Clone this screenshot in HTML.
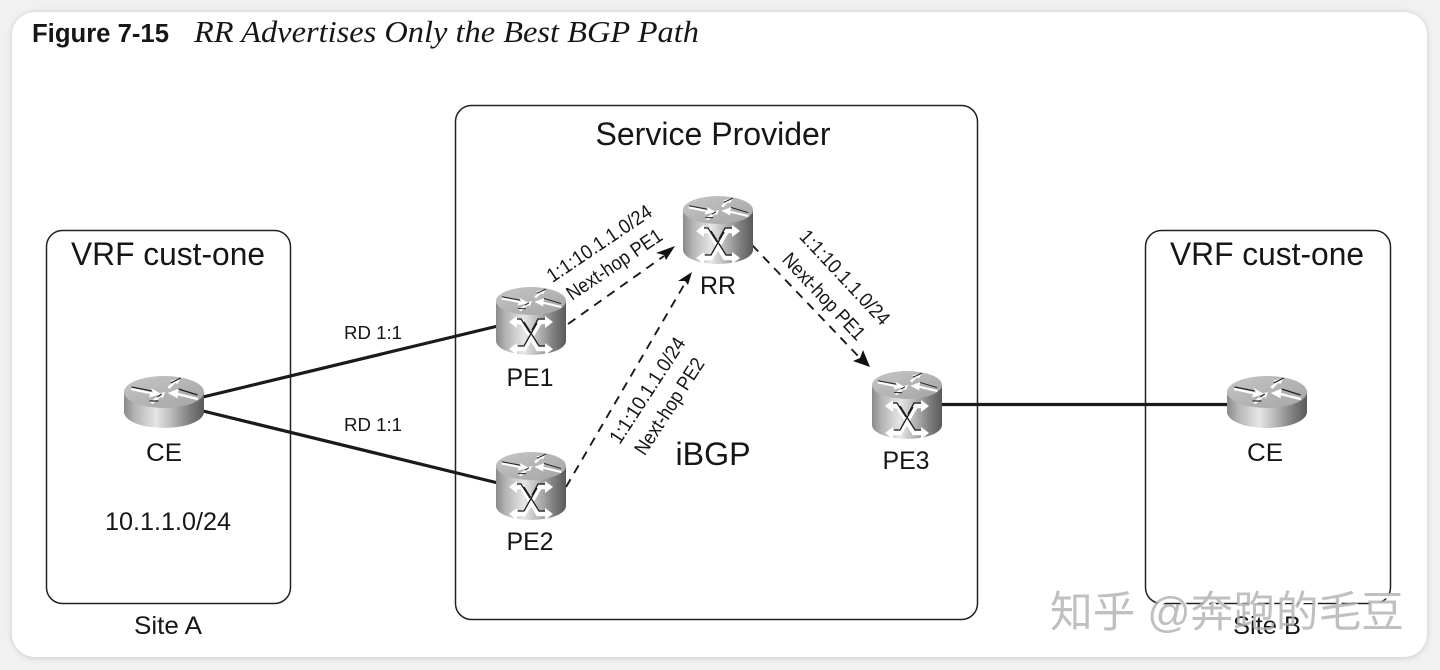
<!DOCTYPE html>
<html><head><meta charset="utf-8"><style>
html,body{margin:0;padding:0;background:#f1f1f1;width:1440px;height:670px;overflow:hidden}
svg{display:block}
text{font-family:"Liberation Sans",sans-serif;fill:#161616}
</style></head><body>
<svg width="1440" height="670" viewBox="0 0 1440 670" xmlns="http://www.w3.org/2000/svg">
<defs>
<linearGradient id="b" x1="0" x2="1" y1="0" y2="0">
<stop offset="0" stop-color="#8a8a8a"/><stop offset=".14" stop-color="#b4b4b4"/><stop offset=".4" stop-color="#e6e6e6"/><stop offset=".55" stop-color="#c4c4c4"/><stop offset=".82" stop-color="#7f7f7f"/><stop offset="1" stop-color="#5a5a5a"/>
</linearGradient>
<linearGradient id="t" x1="0" x2="1" y1="0" y2="1">
<stop offset="0" stop-color="#c6c6c6"/><stop offset="1" stop-color="#a4a4a4"/>
</linearGradient>
<filter id="sh" x="-3%" y="-3%" width="106%" height="106%"><feGaussianBlur stdDeviation="3"/></filter>
<g id="arrows">
<path d="M-29 -4 L-9 1 L-11 -3 L-3 2 L-13 5 L-12 2 L-29 -2Z" fill="#fff" stroke="#fff" stroke-width=".6"/>
<path d="M-29 -5 L-11 -1" stroke="#222" stroke-width="1.2" fill="none"/>
<path d="M3 -5 L8 -10 L5 -11 L15 -14 L12 -8 L10 -9 L5 -3Z" fill="#fff"/>
<path d="M6 -9 L15 -14" stroke="#222" stroke-width="1.2" fill="none"/>
<path d="M30 6 L12 1 L13 -3 L4 1 L12 6 L12 3 L30 8Z" fill="#fff" stroke="#fff" stroke-width=".6"/>
<path d="M13 -3 L30 3" stroke="#222" stroke-width="1.2" fill="none"/>
<path d="M-13 10 L-5 4 L-7 2 L1 0 L-1 6 L-3 5 L-10 12Z" fill="#fff"/>
<path d="M-13 9 L-5 9 M-6 5 L-2 2" stroke="#222" stroke-width="1.2" fill="none"/>
</g>
<g id="ce">
<path d="M-40 -11 V9 A40 16 0 0 0 40 9 V-11Z" fill="url(#b)"/>
<ellipse cx="0" cy="-11" rx="40" ry="16" fill="url(#t)"/>
<use href="#arrows" transform="translate(0,-11) scale(1.12,1)"/>
</g>
<g id="pe">
<path d="M-35 -20 V20 A35 14 0 0 0 35 20 V-20Z" fill="url(#b)"/>
<ellipse cx="0" cy="-20" rx="35" ry="14" fill="url(#t)"/>
<use href="#arrows" transform="translate(0,-20) scale(1,.85)"/>
<path d="M-16 1 H-9 L7 28 H16 M16 1 H9 L-7 28 H-16" stroke="#fff" stroke-width="4.500" fill="none"/>
<path d="M-16 -2 H-10 L-1 12 M15 -2 H7 L1 9 M-7 1 L8 25 H15 M6 2 L-7 25 H-13" stroke="#1c1c1c" stroke-width="1.3" fill="none"/>
<path d="M14 -5 L22 1 L14 7Z M14 22 L22 28 L14 34Z M-14 -5 L-22 1 L-14 7Z M-14 22 L-22 28 L-14 34Z" fill="#fff"/>
</g>
</defs>

<rect x="0" y="0" width="1440" height="670" fill="#f1f1f1"/>
<rect x="12" y="12" width="1415" height="646" rx="24" fill="#c8c8c8" filter="url(#sh)"/>
<rect x="12" y="12" width="1415" height="645" rx="23" fill="#fff"/>

<text x="32" y="42" font-size="25.500" font-weight="700" textLength="137" lengthAdjust="spacingAndGlyphs">Figure 7-15</text>
<text x="194" y="42" font-size="31" font-style="italic" textLength="505" lengthAdjust="spacingAndGlyphs" style="font-family:'Liberation Serif',serif">RR Advertises Only the Best BGP Path</text>

<rect x="46.5" y="230.5" width="244" height="373" rx="16" fill="none" stroke="#222" stroke-width="1.5"/>
<rect x="455.5" y="105.5" width="522" height="514" rx="16" fill="none" stroke="#222" stroke-width="1.5"/>
<rect x="1145.5" y="230.5" width="245" height="373" rx="16" fill="none" stroke="#222" stroke-width="1.5"/>

<text x="168" y="265" font-size="32" text-anchor="middle" textLength="194" lengthAdjust="spacingAndGlyphs">VRF cust-one</text>
<text x="713" y="145" font-size="32" text-anchor="middle" textLength="235" lengthAdjust="spacingAndGlyphs">Service Provider</text>
<text x="1267" y="265" font-size="32" text-anchor="middle" textLength="194" lengthAdjust="spacingAndGlyphs">VRF cust-one</text>

<path d="M203 397 L498 326" stroke="#1a1a1a" stroke-width="3.2"/>
<path d="M203 411 L498 483" stroke="#1a1a1a" stroke-width="3.2"/>
<path d="M941 404.500 H1228" stroke="#1a1a1a" stroke-width="3.2"/>

<g stroke="#1a1a1a" stroke-width="1.9" stroke-dasharray="9 7" fill="none">
<path d="M568 324 L664 256"/>
<path d="M566 487 L684 285"/>
<path d="M752 245 L860 358"/>
</g>
<path d="M675 246 L656 253 L664 255 L666 260Z" fill="#111"/>
<path d="M692 272 L678 281 L685 281 L688 285Z" fill="#111"/>
<path d="M870 367 L853 361 L860 358 L863 350Z" fill="#111"/>

<use href="#ce" x="164" y="403"/>
<use href="#ce" x="1267" y="403"/>
<use href="#pe" x="531" y="321"/>
<use href="#pe" x="531" y="486"/>
<use href="#pe" x="718" y="230"/>
<use href="#pe" x="907" y="405"/>

<g font-size="25" text-anchor="middle">
<text x="164" y="461" textLength="36" lengthAdjust="spacingAndGlyphs">CE</text>
<text x="1265" y="461" textLength="36" lengthAdjust="spacingAndGlyphs">CE</text>
<text x="530" y="386" textLength="47" lengthAdjust="spacingAndGlyphs">PE1</text>
<text x="530" y="550" textLength="47" lengthAdjust="spacingAndGlyphs">PE2</text>
<text x="718" y="294" textLength="36" lengthAdjust="spacingAndGlyphs">RR</text>
<text x="906" y="469" textLength="47" lengthAdjust="spacingAndGlyphs">PE3</text>
<text x="168" y="530" textLength="126" lengthAdjust="spacingAndGlyphs">10.1.1.0/24</text>
<text x="168" y="634" textLength="68" lengthAdjust="spacingAndGlyphs">Site A</text>
</g>
<text x="713" y="465" font-size="32" text-anchor="middle" textLength="75" lengthAdjust="spacingAndGlyphs">iBGP</text>
<text x="373" y="339" font-size="18.500" text-anchor="middle" textLength="58" lengthAdjust="spacingAndGlyphs">RD 1:1</text>
<text x="373" y="431" font-size="18.500" text-anchor="middle" textLength="58" lengthAdjust="spacingAndGlyphs">RD 1:1</text>

<g font-size="20" text-anchor="middle">
<text transform="translate(603,249) rotate(-34)" textLength="122" lengthAdjust="spacingAndGlyphs">1:1:10.1.1.0/24</text>
<text transform="translate(618,270) rotate(-34)" textLength="111" lengthAdjust="spacingAndGlyphs">Next-hop PE1</text>
<text transform="translate(653,394) rotate(-57)" textLength="122" lengthAdjust="spacingAndGlyphs">1:1:10.1.1.0/24</text>
<text transform="translate(675,410) rotate(-57)" textLength="111" lengthAdjust="spacingAndGlyphs">Next-hop PE2</text>
<text transform="translate(840,282) rotate(47)" textLength="122" lengthAdjust="spacingAndGlyphs">1:1:10.1.1.0/24</text>
<text transform="translate(819,301) rotate(47)" textLength="111" lengthAdjust="spacingAndGlyphs">Next-hop PE1</text>
</g>

<text x="1052" y="629" font-size="43" style="font-family:'Liberation Sans','Noto Sans CJK SC',sans-serif;fill:#fff;stroke:#fff;stroke-width:1" textLength="354" lengthAdjust="spacingAndGlyphs">知乎 @奔跑的毛豆</text>
<text x="1267" y="634" font-size="25" text-anchor="middle" textLength="68" lengthAdjust="spacingAndGlyphs">Site B</text>
<text x="1050" y="627" font-size="43" style="font-family:'Liberation Sans','Noto Sans CJK SC',sans-serif;fill:#b0b0b0;fill-opacity:.8" textLength="354" lengthAdjust="spacingAndGlyphs">知乎 @奔跑的毛豆</text>
</svg>
</body></html>
